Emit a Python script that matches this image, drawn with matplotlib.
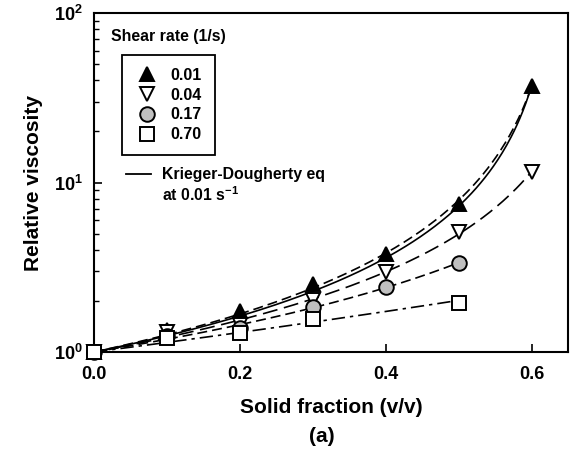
import numpy as np
import matplotlib
matplotlib.use("Agg")
import matplotlib.pyplot as plt
from matplotlib.lines import Line2D

plt.rcParams['font.family'] = ['Liberation Sans', 'DejaVu Sans']
plt.rcParams['font.weight'] = 'bold'
plt.rcParams['mathtext.fontset'] = 'custom'
plt.rcParams['mathtext.rm'] = 'Liberation Sans:bold'
plt.rcParams['mathtext.bf'] = 'Liberation Sans:bold'

# relative viscosity vs solid fraction at each shear rate
phi_a = [0.0, 0.1, 0.2, 0.3, 0.4, 0.5, 0.6]
eta_001 = [1.0, 1.35, 1.75, 2.52, 3.79, 7.46, 37.1]
phi_b = [0.0, 0.1, 0.2, 0.3, 0.4, 0.5, 0.6]
eta_004 = [1.0, 1.32, 1.45, 2.03, 2.96, 5.1, 11.5]
phi_c = [0.0, 0.1, 0.2, 0.3, 0.4, 0.5]
eta_017 = [1.0, 1.25, 1.38, 1.84, 2.42, 3.35]
phi_d = [0.0, 0.1, 0.2, 0.3, 0.5]
eta_070 = [1.0, 1.21, 1.29, 1.57, 1.95]

rate_labels = ['0.01', '0.04', '0.17', '0.70']

# Krieger-Dougherty parameters
phi_max = 0.64
intr_visc = 2.036


def kd_fit(x, y):
    # least squares in log space for eta = (1 - phi/pm)^-n
    x = np.asarray(x)
    ly = np.log(np.asarray(y))
    best = None
    for pm in np.linspace(max(x) + 0.005, 3.0, 800):
        g = -np.log(1 - x/pm)
        n = np.dot(g, ly) / np.dot(g, g)
        err = np.sum((n*g - ly)**2)
        if best is None or err < best[0]:
            best = (err, pm, n)
    return best[1], best[2]


fig = plt.figure(figsize=(5.75, 4.5), dpi=100)
ax = fig.add_axes([94/575, 1-352/450, (568-94)/575, (352-13)/450])

series = [
    (phi_a, eta_001, '^', 'black', (0, (6, 3))),
    (phi_b, eta_004, 'v', 'white', (0, (9, 4))),
    (phi_c, eta_017, 'o', '#c0c0c0', (0, (6, 3))),
    (phi_d, eta_070, 's', 'white', (0, (8, 3, 2, 3))),
]

# fitted trend lines
for x, y, m, fc, ls in series:
    pm, n = kd_fit(x, y)
    xs = np.linspace(x[0], x[-1], 200)
    ax.plot(xs, (1 - xs/pm)**(-n), color='k', lw=1.2, linestyle=ls, zorder=2)

# Krieger-Dougherty curve
xkd = np.linspace(0, 0.6, 300)
ax.plot(xkd, (1 - xkd/phi_max)**(-intr_visc*phi_max), color='k', lw=1.2, zorder=2)

handles = []
for x, y, m, fc, ls in series:
    ax.plot(x, y, linestyle='none', marker=m, ms=10.5, mfc=fc, mec='k', mew=1.4,
            zorder=3, clip_on=False)
    handles.append(Line2D([], [], linestyle='none', marker=m, ms=10.5, mfc=fc, mec='k', mew=1.4))

ax.set_yscale('log')
ax.set_xlim(0, 0.65)
ax.set_ylim(1, 100)
ax.set_xticks([0.0, 0.2, 0.4, 0.6])
ax.set_xticklabels(['0.0', '0.2', '0.4', '0.6'])
ax.set_yticks([1, 10, 100])
ax.set_yticklabels([r'$10^{0}$', r'$10^{1}$', r'$10^{2}$'])
ax.tick_params(direction='in', labelsize=13, width=1.2, length=6)
ax.tick_params(which='minor', direction='in', width=1, length=3.5)
ax.tick_params(axis='x', pad=10)
ax.tick_params(axis='y', pad=8)
for s in ax.spines.values():
    s.set_linewidth(1.5)

ax.set_xlabel('Solid fraction (v/v)', fontsize=15, fontweight='bold', labelpad=11)
ax.set_ylabel('Relative viscosity', fontsize=15, fontweight='bold', labelpad=8)
fig.text(322/575, 1-436/450, '(a)', fontsize=15, fontweight='bold', ha='center', va='center')

fig.text(111/575, 1-37/450, 'Shear rate (1/s)', fontsize=11.4, fontweight='bold', va='center')

leg1 = ax.legend(handles, rate_labels, loc='upper left',
                 bbox_to_anchor=(122/575, 1-55/450), bbox_transform=fig.transFigure,
                 frameon=True, fancybox=False, edgecolor='k', framealpha=1,
                 prop={'size': 11.5, 'weight': 'bold'}, handlelength=1.5,
                 handletextpad=0.75, labelspacing=0.3, borderpad=0.8, borderaxespad=0)
leg1.get_frame().set_linewidth(1.3)

# Krieger-Dougherty key below the box
fig.add_artist(Line2D([126/575, 151/575], [1-174/450, 1-174/450], color='k', lw=1.3))
fig.text(162/575, 1-174/450, 'Krieger-Dougherty eq', fontsize=11.4, fontweight='bold', va='center')
fig.text(162/575, 1-195/450, 'at 0.01 s$^{-1}$', fontsize=11.4, fontweight='bold', va='center')

fig.savefig('out.png', dpi=100)
